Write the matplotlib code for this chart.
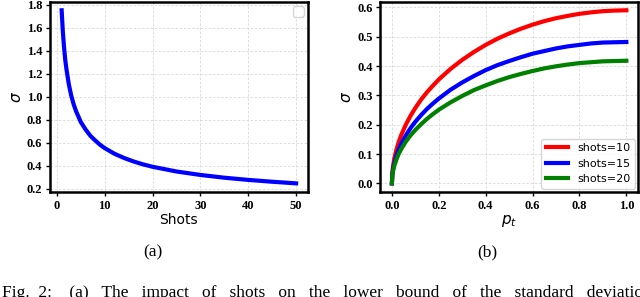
import matplotlib
matplotlib.use("Agg")
import matplotlib.pyplot as plt

# (a) sigma against number of shots
shots = [1, 1.25, 1.5, 1.75, 2, 2.5, 3, 3.5, 4, 5, 6, 7, 8, 9, 10, 12, 14,
         16, 18, 20, 25, 30, 35, 40, 45, 50]
sigma_a = [1.75, 1.565, 1.43, 1.32, 1.24, 1.107, 1.01, 0.935, 0.875, 0.78,
           0.715, 0.66, 0.62, 0.583, 0.553, 0.505, 0.468, 0.4375, 0.412,
           0.391, 0.35, 0.32, 0.296, 0.277, 0.261, 0.247]

# (b) sigma against p_t for three shot counts
p_t = [0, 0.002, 0.005, 0.01, 0.02, 0.03, 0.04, 0.06, 0.08, 0.1, 0.125,
       0.15, 0.175, 0.2, 0.25, 0.3, 0.35, 0.4, 0.45, 0.5, 0.55, 0.6, 0.65,
       0.7, 0.75, 0.8, 0.85, 0.9, 0.95, 1.0]
sigma_10 = [0, 0.037, 0.059, 0.083, 0.117, 0.143, 0.165, 0.201, 0.231, 0.257,
            0.286, 0.311, 0.333, 0.354, 0.390, 0.421, 0.448, 0.472, 0.493,
            0.511, 0.527, 0.541, 0.553, 0.563, 0.571, 0.578, 0.583, 0.587,
            0.589, 0.59]
sigma_15 = [0, 0.030, 0.048, 0.068, 0.096, 0.117, 0.135, 0.164, 0.189, 0.210,
            0.233, 0.254, 0.272, 0.289, 0.319, 0.344, 0.366, 0.386, 0.403,
            0.417, 0.430, 0.442, 0.451, 0.460, 0.467, 0.472, 0.477, 0.480,
            0.481, 0.482]
sigma_20 = [0, 0.026, 0.042, 0.059, 0.083, 0.102, 0.117, 0.143, 0.164, 0.182,
            0.202, 0.220, 0.236, 0.251, 0.276, 0.298, 0.318, 0.334, 0.349,
            0.362, 0.373, 0.383, 0.392, 0.399, 0.405, 0.410, 0.413, 0.416,
            0.417, 0.418]
labels_b = ["shots=10", "shots=15", "shots=20"]
colors_b = ["red", "blue", "green"]

caption = ("Fig.  2:    (a)   The   impact   of   shots   on   the   lower   "
           "bound   of   the   standard   deviation")

fig = plt.figure(figsize=(6.4, 2.97), dpi=100)
ax1 = fig.add_axes([0.078, 0.3535, 0.403, 0.641])
ax2 = fig.add_axes([0.594, 0.3535, 0.403, 0.641])


def style(ax):
    ax.grid(True, color="#d8d8d8", linestyle=(0, (3, 2)), linewidth=0.6)
    ax.set_axisbelow(True)
    for sp in ax.spines.values():
        sp.set_linewidth(1.8)
        sp.set_color("black")
    ax.tick_params(width=1.0, length=3, pad=2.5)
    for lab in ax.get_xticklabels() + ax.get_yticklabels():
        lab.set_fontfamily("Liberation Serif")
        lab.set_fontweight("bold")
        lab.set_fontsize(9)


ax1.plot(shots, sigma_a, color="blue", linewidth=3)
ax1.set_xticks([0, 10, 20, 30, 40, 50])
ax1.set_yticks([0.2, 0.4, 0.6, 0.8, 1.0, 1.2, 1.4, 1.6, 1.8])
ax1.set_xlabel("Shots", fontsize=10, labelpad=1)
ax1.set_ylabel(r"$\sigma$", fontsize=11, labelpad=2)
ax1.legend(handles=[], loc="upper right", borderaxespad=0.3)
style(ax1)

for ys, lab, c in zip([sigma_10, sigma_15, sigma_20], labels_b, colors_b):
    ax2.plot(p_t, ys, color=c, linewidth=3, label=lab)
ax2.set_xticks([0.0, 0.2, 0.4, 0.6, 0.8, 1.0])
ax2.set_yticks([0.0, 0.1, 0.2, 0.3, 0.4, 0.5, 0.6])
ax2.set_xlabel(r"$p_t$", fontsize=11, labelpad=1)
ax2.set_ylabel(r"$\sigma$", fontsize=11, labelpad=2)
ax2.legend(loc="lower right", fontsize=8, borderaxespad=0.3)
style(ax2)

fig.text(0.239, 0.15, "(a)", ha="center", va="center",
         family="Liberation Serif", fontsize=12.5)
fig.text(0.761, 0.15, "(b)", ha="center", va="center",
         family="Liberation Serif", fontsize=12.5)
fig.text(0.003, 0.015, caption, ha="left", va="center",
         family="Liberation Serif", fontsize=12.5)

fig.savefig("out.png", dpi=100)
